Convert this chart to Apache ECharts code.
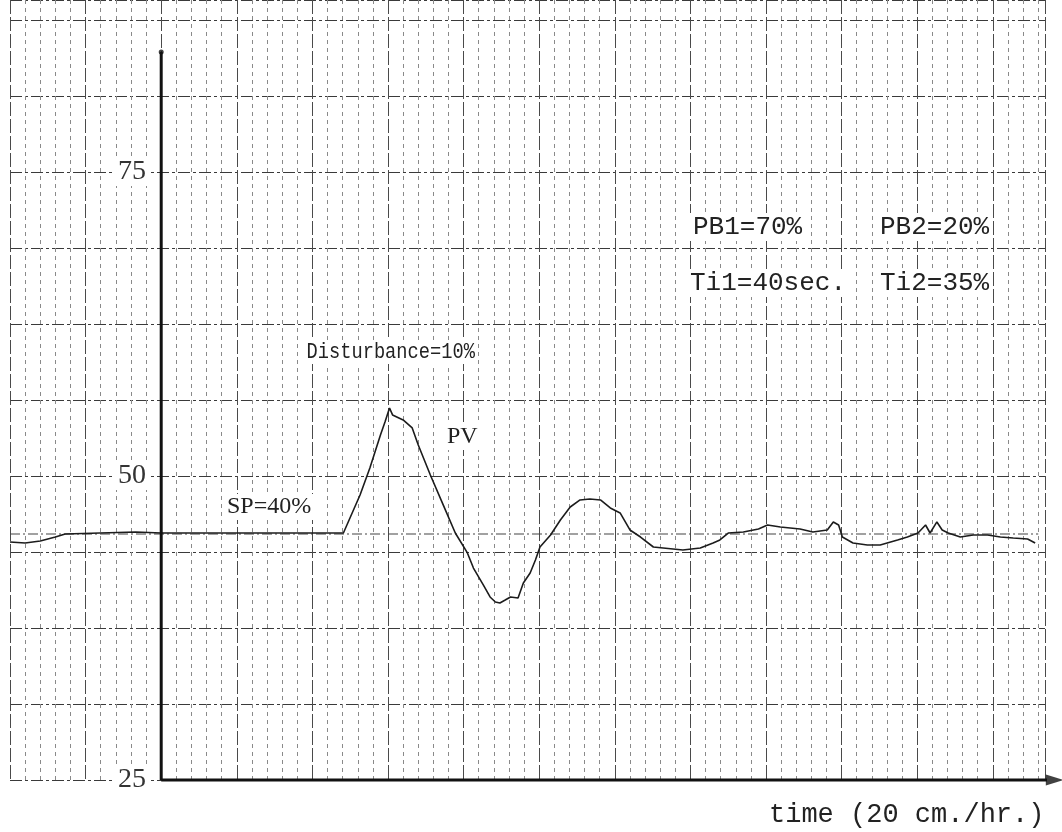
<!DOCTYPE html>
<html>
<head>
<meta charset="utf-8">
<script src="https://cdn.jsdelivr.net/npm/echarts@6/dist/echarts.min.js"></script>
<style>
html,body{margin:0;padding:0;background:#fff;}
#chart{width:1062px;height:832px;}
</style>
</head>
<body>
<div id="chart"></div>
<script>
// ---- data (time in chart divisions, value in % of chart scale) ----
const pvTime = [-2.00,-1.80,-1.60,-1.40,-1.27,-0.81,-0.34,0.00,2.41,2.63,2.76,2.90,2.96,3.02,3.06,3.20,3.32,3.40,3.56,3.73,3.89,4.05,4.13,4.26,4.35,4.42,4.48,4.55,4.62,4.72,4.79,4.88,4.95,5.01,5.15,5.28,5.41,5.54,5.67,5.81,5.94,6.07,6.20,6.34,6.51,6.64,6.90,7.13,7.30,7.39,7.50,7.70,7.90,8.02,8.19,8.45,8.62,8.81,8.89,8.96,9.01,9.15,9.34,9.51,9.74,9.87,10.01,10.11,10.17,10.26,10.33,10.41,10.57,10.74,10.93,11.10,11.27,11.46,11.56];
const pvValue = [44.57,44.49,44.65,44.98,45.23,45.31,45.39,45.31,45.31,48.44,50.66,53.37,54.44,55.59,55.02,54.61,53.95,52.55,50.08,47.62,45.31,43.67,42.43,41.04,40.05,39.64,39.56,39.80,40.05,39.97,41.20,42.02,43.09,44.16,45.15,46.38,47.45,48.03,48.11,48.03,47.37,46.96,45.56,44.98,44.16,44.08,43.91,44.08,44.49,44.74,45.31,45.39,45.64,45.97,45.81,45.64,45.39,45.56,46.22,45.97,44.98,44.49,44.33,44.33,44.74,44.98,45.31,45.97,45.31,46.22,45.56,45.31,44.98,45.15,45.15,44.98,44.90,44.82,44.49];
const spTime = [-2.00, 11.60];
const spValue = [45.23, 45.23];
const yTickLabels = [25, 50, 75];
const yAxisLineTime = [0, 0];
const yAxisLineValue = [25, 84.87];
const xAxisLineTime = [0, 11.78];
const xAxisLineValue = [25, 25];
const arrowTip = [11.82, 25];

const chart = echarts.init(document.getElementById('chart'), null, {renderer:'canvas'});
const txt = (t, x, y, font, sx) => ({
  type:'text', left:x, top:y, z:100, scaleX: sx || 1,
  style:{text:t, font:font, fill:'#222', backgroundColor:'#fff', padding:[1,3]}
});
const mono = '"Liberation Mono", "DejaVu Sans Mono", monospace';
const serif = '"Liberation Serif", "DejaVu Serif", serif';

chart.setOption({
  animation:false,
  backgroundColor:'#fff',
  grid:{left:10, right:17, top:0, bottom:52},
  xAxis:{
    type:'value', min:-2, max:11.69, interval:1,
    axisLine:{show:false}, axisTick:{show:false}, axisLabel:{show:false},
    splitLine:{show:true, lineStyle:{color:'#4a4a4a', width:1, type:[14,3]}},
    minorTick:{show:false, splitNumber:5},
    minorSplitLine:{show:true, lineStyle:{color:'#8a8a8a', width:1, type:[4,4]}}
  },
  yAxis:[{
    type:'value', min:25, max:89.14, interval:6.25,
    axisLine:{show:false}, axisTick:{show:false}, axisLabel:{show:false},
    splitLine:{show:true, lineStyle:{color:'#3a3a3a', width:1, type:[12,3,3,3]}}
  },{
    type:'value', position:'left', min:25, max:89.14, interval:25, offset:-151,
    axisLine:{show:false}, axisTick:{show:false}, splitLine:{show:false},
    axisLabel:{show:true, margin:12, color:'#333', fontFamily:serif, fontSize:28,
      showMaxLabel:false,
      backgroundColor:'#fff', padding:[0,3],
      formatter:v => yTickLabels.includes(v) ? String(v) : ''}
  }],
  series:[
    {
      type:'line', name:'SP', yAxisIndex:0, silent:true, symbol:'none', z:3,
      data: spTime.map((t,i)=>[t, spValue[i]]),
      lineStyle:{color:'#444', width:1.2, type:[10,3,2,3]}
    },
    {
      type:'line', name:'PV', yAxisIndex:0, symbol:'none', z:5,
      data: pvTime.map((t,i)=>[t, pvValue[i]]),
      lineStyle:{color:'#1c1c1c', width:1.6}
    },
    {
      type:'line', name:'yAxisLine', yAxisIndex:0, symbol:'none', clip:false, z:6, silent:true,
      data: yAxisLineTime.map((t,i)=>[t, yAxisLineValue[i]]),
      lineStyle:{color:'#111', width:3}
    },
    {
      type:'line', name:'xAxisLine', yAxisIndex:0, symbol:'none', clip:false, z:6, silent:true,
      data: xAxisLineTime.map((t,i)=>[t, xAxisLineValue[i]]),
      lineStyle:{color:'#111', width:3}
    },
    {
      type:'scatter', name:'marks', yAxisIndex:0, clip:false, z:7, silent:true,
      data:[
        {value:arrowTip, symbol:'triangle', symbolSize:[11,18], symbolRotate:-90},
        {value:[yAxisLineTime[1], yAxisLineValue[1]], symbol:'circle', symbolSize:5}
      ],
      itemStyle:{color:'#111'}
    }
  ],
  graphic:[
    txt('Disturbance=10%', 304, 340, '22px ' + mono, 0.85),
    txt('PV', 444, 424, '24px ' + serif),
    txt('SP=40%', 224, 494, '24px ' + serif),
    txt('PB1=70%', 690, 213, '26px ' + mono),
    txt('PB2=20%', 877, 213, '26px ' + mono),
    txt('Ti1=40sec.', 687, 269, '26px ' + mono),
    txt('Ti2=35%', 877, 269, '26px ' + mono),
    txt('time (20 cm./hr.)', 766, 800, '27px ' + mono)
  ]
});
</script>
</body>
</html>
